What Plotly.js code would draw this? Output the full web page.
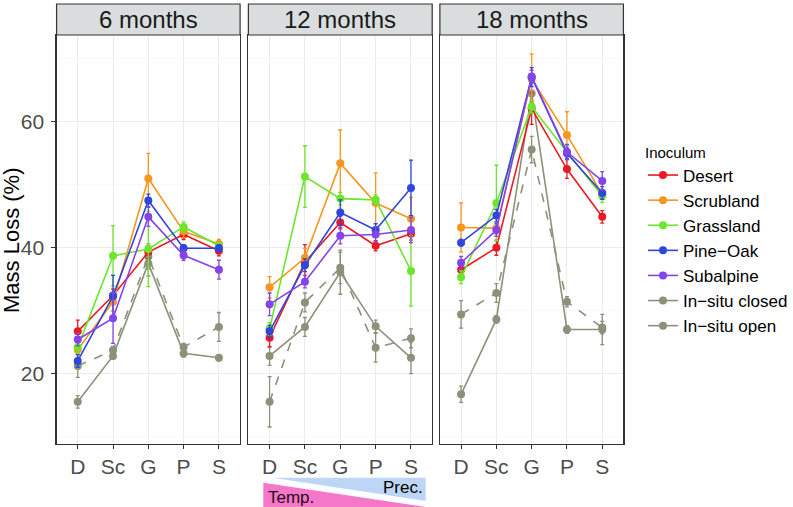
<!DOCTYPE html>
<html>
<head>
<meta charset="utf-8">
<script src="https://cdn.plot.ly/plotly-3.0.1.min.js"></script>
<style>html,body{margin:0;padding:0;background:#fff}#chart{width:793px;height:507px}</style>
</head>
<body>
<div id="chart"></div>
<script>
// ---- data ----
const categories = ['D', 'Sc', 'G', 'P', 'S'];
const panelTitles = ['6 months', '12 months', '18 months'];
const seriesNames = ['Desert', 'Scrubland', 'Grassland', 'Pine\u2212Oak', 'Subalpine', 'In\u2212situ closed', 'In\u2212situ open'];

// 6 months
const desert6 = [26.7, 32.4, 39.3, 42.1, 39.5];   const desert6Err = [1.8, 1.0, 1.0, 0.8, 0.8];
const scrub6  = [23.8, 31.4, 51.0, 42.6, 40.6];   const scrub6Err  = [1.2, 1.5, 4.0, 1.0, 0.7];
const grass6  = [24.2, 38.7, 39.8, 43.3, 40.3];   const grass6Err  = [1.0, 4.8, 6.0, 0.8, 0.5];
const pine6   = [22.0, 32.3, 47.5, 39.9, 39.9];   const pine6Err   = [1.0, 3.3, 1.0, 0.6, 0.6];
const sub6    = [25.4, 28.8, 44.9, 38.8, 36.5];   const sub6Err    = [1.0, 4.0, 1.5, 0.8, 1.5];
const closed6 = [15.5, 22.8, 37.5, 23.2, 22.5];   const closed6Err = [1.0, 0.5, 2.0, 0.6, 0.5];
const open6   = [21.2, 23.7, 38.6, 24.2, 27.4];   const open6Err   = [1.8, 0.6, 2.0, 0.6, 2.3];

// 12 months
const desert12 = [25.7, 37.7, 44.0, 40.3, 42.2];  const desert12Err = [1.5, 2.8, 1.0, 0.8, 1.0];
const scrub12  = [33.7, 38.4, 53.4, 47.1, 44.6];  const scrub12Err  = [1.7, 1.5, 5.3, 4.8, 3.4];
const grass12  = [27.1, 51.3, 47.8, 47.6, 36.3];  const grass12Err  = [1.0, 4.9, 1.0, 0.8, 5.6];
const pine12   = [26.7, 37.2, 45.6, 42.8, 49.5];  const pine12Err   = [1.0, 1.0, 2.0, 1.0, 4.4];
const sub12    = [31.0, 34.6, 41.9, 42.1, 42.8];  const sub12Err    = [1.8, 1.0, 1.3, 1.2, 2.0];
const closed12 = [22.8, 27.4, 36.1, 27.5, 22.5];  const closed12Err = [1.5, 1.5, 3.5, 1.0, 2.5];
const open12   = [15.5, 31.3, 36.8, 24.1, 25.6];  const open12Err   = [4.0, 1.5, 2.5, 2.3, 1.5];

// 18 months
const desert18 = [36.5, 40.0, 62.1, 52.5, 44.9];  const desert18Err = [1.0, 1.2, 2.5, 1.5, 1.0];
const scrub18  = [43.2, 43.1, 66.8, 57.9, 48.5];  const scrub18Err  = [3.9, 1.0, 4.0, 3.7, 0.8];
const grass18  = [35.3, 47.1, 62.4, 55.2, 48.2];  const grass18Err  = [1.0, 6.0, 1.0, 1.0, 1.0];
const pine18   = [40.8, 45.1, 67.1, 55.0, 48.7];  const pine18Err   = [0.5, 1.0, 1.5, 0.8, 1.0];
const sub18    = [37.6, 42.8, 67.2, 55.2, 50.6];  const sub18Err    = [1.0, 1.0, 1.0, 1.2, 1.5];
const closed18 = [16.7, 28.6, 64.5, 27.0, 27.0];  const closed18Err = [1.3, 0.6, 2.0, 0.6, 2.4];
const open18   = [29.4, 32.8, 55.6, 31.4, 27.3];  const open18Err   = [2.2, 1.5, 2.1, 0.8, 1.0];

// ---- styling ----
const colors = ['#EA1A22', '#F7961E', '#6CE62C', '#2F46DA', '#8444EA', '#8C917A', '#8C917A'];
const dashes = ['solid', 'solid', 'solid', 'solid', 'solid', 'solid', 'dash'];

const panelData = [
  [[desert6, desert6Err], [scrub6, scrub6Err], [grass6, grass6Err], [pine6, pine6Err], [sub6, sub6Err], [closed6, closed6Err], [open6, open6Err]],
  [[desert12, desert12Err], [scrub12, scrub12Err], [grass12, grass12Err], [pine12, pine12Err], [sub12, sub12Err], [closed12, closed12Err], [open12, open12Err]],
  [[desert18, desert18Err], [scrub18, scrub18Err], [grass18, grass18Err], [pine18, pine18Err], [sub18, sub18Err], [closed18, closed18Err], [open18, open18Err]]
];

const W = 793, H = 507;
const px = v => v / W;
const py = v => 1 - v / H;
const panelX = [[56.7, 240.7], [249, 433.3], [441, 625]];
const plotTop = 35, plotBottom = 444, stripTop = 4;

const drawOrder = [5, 6, 0, 1, 2, 3, 4];
const traces = [];
for (let p = 0; p < 3; p++) {
  const sfx = p === 0 ? '' : String(p + 1);
  drawOrder.forEach(s => {
    const [vals, errs] = panelData[p][s];
    traces.push({
      type: 'scatter', mode: 'lines+markers',
      x: categories, y: vals,
      xaxis: 'x' + sfx, yaxis: 'y' + sfx,
      name: seriesNames[s], showlegend: false,
      line: {color: colors[s], width: 1.6, dash: dashes[s]},
      marker: {color: colors[s], size: 8},
      error_y: {type: 'data', array: errs, visible: true, color: colors[s], thickness: 1.3, width: 2},
      hoverinfo: 'skip'
    });
  });
}
// legend entries
seriesNames.forEach((n, s) => {
  traces.push({
    type: 'scatter', mode: 'lines+markers', x: [null], y: [null],
    xaxis: 'x', yaxis: 'y', name: n, showlegend: true,
    line: {color: colors[s], width: 1.6}, marker: {color: colors[s], size: 8}
  });
});

const gridCol = '#EBEBEB';
function xax(p) {
  return {
    domain: [px(panelX[p][0]), px(panelX[p][1])],
    type: 'category', categoryarray: categories, range: [-0.6, 4.6],
    anchor: p === 0 ? 'y' : 'y' + (p + 1),
    showgrid: true, gridcolor: gridCol, gridwidth: 1,
    showline: true, mirror: true, linecolor: '#333333', linewidth: 1.2,
    ticks: 'outside', ticklen: 4, tickcolor: '#333333', tickwidth: 1,
    tickfont: {family: 'Liberation Sans, Arial, sans-serif', size: 21, color: '#4D4D4D'},
    zeroline: false, fixedrange: true
  };
}
function yax(p) {
  return {
    domain: [py(plotBottom), py(plotTop)],
    range: [8.8, 73.8],
    anchor: p === 0 ? 'x' : 'x' + (p + 1),
    tickvals: [20, 40, 60], ticktext: ['20', '40', '60'],
    showgrid: true, gridcolor: gridCol, gridwidth: 1,
    minor: {tickvals: [10, 30, 50, 70], showgrid: true, gridcolor: '#F3F3F3', gridwidth: 0.6, ticks: ''},
    showline: true, mirror: true, linecolor: '#333333', linewidth: 1.2,
    ticks: p === 0 ? 'outside' : '', ticklen: 4, tickcolor: '#333333', tickwidth: 1,
    showticklabels: p === 0, ticklabelstandoff: 3,
    tickfont: {family: 'Liberation Sans, Arial, sans-serif', size: 21, color: '#4D4D4D'},
    zeroline: false, fixedrange: true
  };
}

const shapes = [];
const annotations = [];
panelTitles.forEach((t, p) => {
  shapes.push({
    type: 'rect', xref: 'paper', yref: 'paper',
    x0: px(panelX[p][0]), x1: px(panelX[p][1]), y0: py(plotTop), y1: py(stripTop),
    fillcolor: '#D9DDDD', line: {color: '#333333', width: 1.2}, layer: 'above'
  });
  annotations.push({
    text: t, xref: 'paper', yref: 'paper', showarrow: false,
    x: px((panelX[p][0] + panelX[p][1]) / 2), y: py((plotTop + stripTop) / 2),
    xanchor: 'center', yanchor: 'middle',
    font: {family: 'Liberation Sans, Arial, sans-serif', size: 24, color: '#1A1A1A'}
  });
});
// y title
annotations.push({
  text: 'Mass Loss (%)', xref: 'paper', yref: 'paper', showarrow: false,
  x: px(11), y: py(240), textangle: -90, xanchor: 'center', yanchor: 'middle',
  font: {family: 'Liberation Sans, Arial, sans-serif', size: 22, color: '#000000'}
});
// gradient triangles under middle panel
const tri = (pts) => 'M ' + pts.map(q => px(q[0]) + ',' + py(q[1])).join(' L ') + ' Z';
shapes.push({type: 'path', xref: 'paper', yref: 'paper',
  path: tri([[264, 482.7], [426.7, 507], [264, 507]]), fillcolor: '#F477C8', line: {width: 0}});
shapes.push({type: 'path', xref: 'paper', yref: 'paper',
  path: tri([[273.3, 477.7], [426.7, 477.7], [426.7, 501]]), fillcolor: '#BDD6F6', line: {width: 0}});
annotations.push({text: 'Temp.', xref: 'paper', yref: 'paper', showarrow: false,
  x: px(267), y: py(497), xanchor: 'left', yanchor: 'middle',
  font: {family: 'Liberation Sans, Arial, sans-serif', size: 17, color: '#2A0A1E'}});
annotations.push({text: 'Prec.', xref: 'paper', yref: 'paper', showarrow: false,
  x: px(426), y: py(487), xanchor: 'right', yanchor: 'middle',
  font: {family: 'Liberation Sans, Arial, sans-serif', size: 17, color: '#000000'}});

const layout = {
  width: W, height: H,
  margin: {l: 0, r: 0, t: 0, b: 0},
  paper_bgcolor: '#FFFFFF', plot_bgcolor: '#FFFFFF',
  font: {family: 'Liberation Sans, Arial, sans-serif'},
  xaxis: xax(0), xaxis2: xax(1), xaxis3: xax(2),
  yaxis: yax(0), yaxis2: yax(1), yaxis3: yax(2),
  shapes: shapes, annotations: annotations,
  showlegend: true,
  legend: {
    x: px(645), y: py(138), xanchor: 'left', yanchor: 'top',
    bgcolor: 'rgba(0,0,0,0)', tracegroupgap: 0, itemwidth: 30,
    title: {text: 'Inoculum', font: {size: 15, color: '#000000'}},
    font: {family: 'Liberation Sans, Arial, sans-serif', size: 17, color: '#000000'}
  }
};

Plotly.newPlot('chart', traces, layout, {staticPlot: true, displayModeBar: false});
</script>
</body>
</html>
